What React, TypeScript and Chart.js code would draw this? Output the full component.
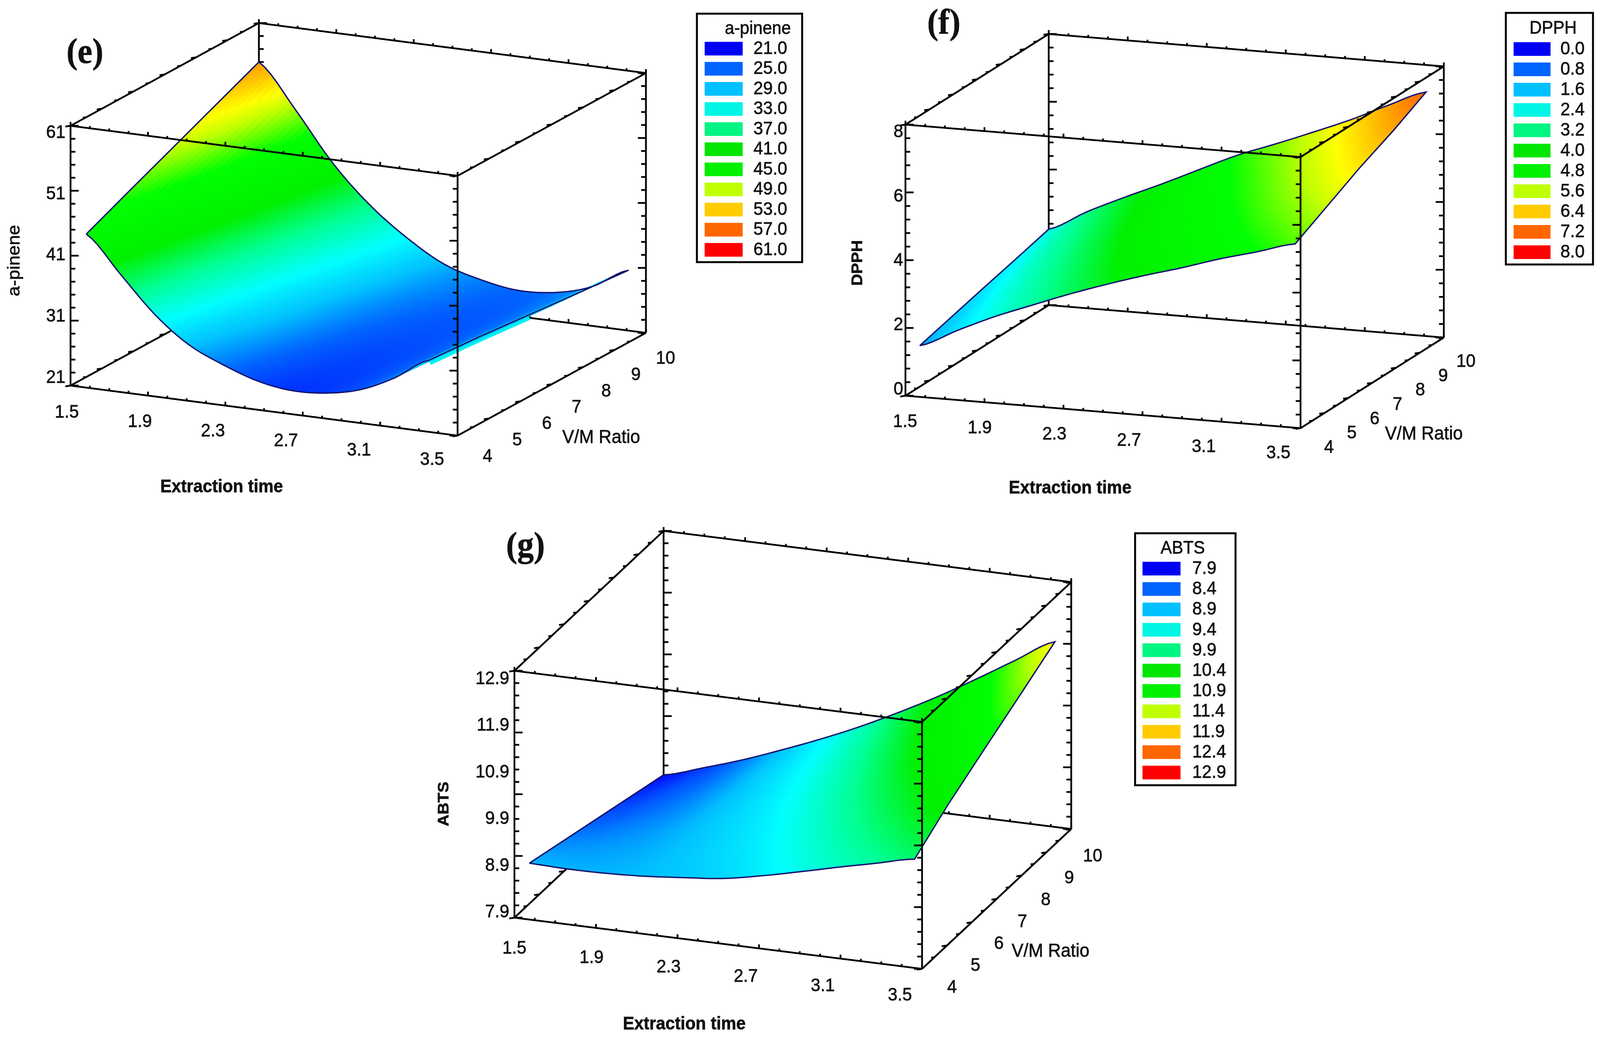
import { useEffect, useRef } from "react";
import { Chart, registerables, type ChartConfiguration, type Plugin } from "chart.js";

Chart.register(...registerables);

// tick labels
const timeTicks = ["1.5", "1.9", "2.3", "2.7", "3.1", "3.5"];
const ratioTicks = ["4", "5", "6", "7", "8", "9", "10"];
const pineneTicks = ["21", "31", "41", "51", "61"];
const dpphTicks = ["0", "2", "4", "6", "8"];
const abtsTicks = ["7.9", "8.9", "9.9", "10.9", "11.9", "12.9"];

// legend levels
const pineneLevels = ["21.0", "25.0", "29.0", "33.0", "37.0", "41.0", "45.0", "49.0", "53.0", "57.0", "61.0"];
const dpphLevels = ["0.0", "0.8", "1.6", "2.4", "3.2", "4.0", "4.8", "5.6", "6.4", "7.2", "8.0"];
const abtsLevels = ["7.9", "8.4", "8.9", "9.4", "9.9", "10.4", "10.9", "11.4", "11.9", "12.4", "12.9"];
const levelColors = ["#0000f5", "#0064ff", "#00c0ff", "#00f5e6", "#00f582", "#00e600", "#00f000", "#c0ff00", "#ffcc00", "#ff6600", "#ff0000"];

// surface shading, as share of the z range and colour
const rampStops = [0, 0.1, 0.17, 0.25, 0.35, 0.45, 0.6, 0.7, 0.75, 0.8, 0.9, 1];
const rampColors = ["#0000ff", "#0064ff", "#00c0ff", "#00ffff", "#00ff90", "#00f000", "#00ff00", "#c0ff00", "#ffff00", "#ffcc00", "#ff6600", "#ff0000"];

// surfaces: one row per V/M ratio, 11 stations from 1.5 h to the row's end time
const pineneRatio = [4.5, 5.86, 7.24, 8.62, 10];
const pineneTimeEnd = [3.27, 3.3, 3.34, 3.38, 3.41];
const pineneZ = [
  [43, 37.5, 32, 28, 25.6, 23.8, 23, 23.3, 24.5, 27, 30.4],
  [46, 40, 34, 29.8, 27, 24.8, 23.7, 23.7, 24.7, 27, 30.4],
  [49, 43, 36.5, 31.6, 28.2, 25.7, 24.4, 24.1, 24.9, 27, 30.4],
  [52, 45.6, 38.7, 33.4, 29.5, 26.6, 25.1, 24.5, 25.1, 27, 30.4],
  [55, 48.3, 40.9, 35.2, 30.9, 27.6, 25.9, 25, 25.4, 27, 30.3],
];

const dpphRatio = [4.6, 5.95, 7.3, 8.65, 10];
const dpphTimeEnd = [3.4, 3.4, 3.4, 3.41, 3.41];
const dpphZ = [
  [1.21, 1.75, 2.25, 2.68, 3.1, 3.48, 3.83, 4.15, 4.5, 4.8, 5.12],
  [1.47, 2.02, 2.53, 2.97, 3.42, 3.84, 4.2, 4.55, 4.93, 5.28, 5.64],
  [1.73, 2.3, 2.8, 3.27, 3.74, 4.18, 4.57, 4.95, 5.35, 5.76, 6.16],
  [1.98, 2.57, 3.08, 3.56, 4.05, 4.53, 4.93, 5.34, 5.77, 6.24, 6.68],
  [2.24, 2.84, 3.36, 3.85, 4.37, 4.88, 5.3, 5.74, 6.2, 6.72, 7.2],
];

const abtsRatio = [4.6, 5.95, 7.3, 8.65, 10];
const abtsTimeEnd = [3.39, 3.39, 3.4, 3.41, 3.42];
const abtsZ = [
  [8.72, 8.7, 8.71, 8.75, 8.82, 8.9, 9.05, 9.23, 9.42, 9.6, 9.78],
  [8.53, 8.58, 8.65, 8.75, 8.88, 9.03, 9.24, 9.48, 9.74, 10, 10.25],
  [8.34, 8.45, 8.58, 8.76, 8.95, 9.17, 9.44, 9.74, 10.06, 10.39, 10.72],
  [8.15, 8.33, 8.52, 8.76, 9.02, 9.3, 9.63, 9.99, 10.38, 10.79, 11.18],
  [7.96, 8.2, 8.46, 8.76, 9.08, 9.43, 9.82, 10.24, 10.7, 11.18, 11.65],
];

type Pt = { x: number; y: number };

type Panel = {
  tag: string;
  name: string;
  area: [number, number, number, number]; // left, top, width, height in picture pixels
  // oblique projection of the box, in picture pixels
  o: Pt;
  u: Pt;
  v: Pt;
  wy: number;
  zMin: number;
  zMax: number;
  zTicks: string[];
  levels: string[];
  ratio: number[];
  timeEnd: number[];
  z: number[][];
  lipRows: number; // rows of the far end edge where the underside shows
  tagAt: Pt;
  zLabel: { right: number; top: number; bottom: number };
  timeLabel: [Pt, Pt];
  ratioLabel: [Pt, Pt];
  timeTitle: Pt;
  ratioTitle: Pt;
  zTitle: Pt;
  zTitleFont: string;
  legend: { box: [number, number, number, number]; sx: number; sw: number; top: number; step: number; tx: number; title: Pt };
};

const panels: Panel[] = [
  {
    tag: "(e)",
    name: "a-pinene",
    area: [0, 0, 2200, 1300],
    o: { x: 191, y: 987 },
    u: { x: 1048, y: 128 },
    v: { x: 510, y: -263 },
    wy: -665,
    zMin: 21,
    zMax: 61,
    zTicks: pineneTicks,
    levels: pineneLevels,
    ratio: pineneRatio,
    timeEnd: pineneTimeEnd,
    z: pineneZ,
    lipRows: 3,
    tagAt: { x: 230, y: 138 },
    zLabel: { right: 177, top: 340, bottom: 967 },
    timeLabel: [{ x: 181, y: 1056 }, { x: 1170, y: 1177 }],
    ratioLabel: [{ x: 1320, y: 1169 }, { x: 1802, y: 918 }],
    timeTitle: { x: 600, y: 1247 },
    ratioTitle: { x: 1628, y: 1121 },
    zTitle: { x: 40, y: 667 },
    zTitleFont: "47px 'Liberation Sans'",
    legend: { box: [1887, 35, 2172, 671], sx: 1908, sw: 103, top: 107, step: 51.5, tx: 2040, title: { x: 2052, y: 74 } },
  },
  {
    tag: "(f)",
    name: "DPPH",
    area: [2250, 0, 2083, 1300],
    o: { x: 2452, y: 1013 },
    u: { x: 1070, y: 83 },
    v: { x: 388, y: -232 },
    wy: -694,
    zMin: 0,
    zMax: 8,
    zTicks: dpphTicks,
    levels: dpphLevels,
    ratio: dpphRatio,
    timeEnd: dpphTimeEnd,
    z: dpphZ,
    lipRows: 0,
    tagAt: { x: 2556, y: 63 },
    zLabel: { right: 2446, top: 338, bottom: 997 },
    timeLabel: [{ x: 2451, y: 1080 }, { x: 3462, y: 1160 }],
    ratioLabel: [{ x: 3599, y: 1146 }, { x: 3970, y: 926 }],
    timeTitle: { x: 2898, y: 1250 },
    ratioTitle: { x: 3856, y: 1112 },
    zTitle: { x: 2323, y: 673 },
    zTitleFont: "bold 42px 'Liberation Sans'",
    legend: { box: [4078, 33, 4314, 677], sx: 4099, sw: 100, top: 108, step: 52, tx: 4226, title: { x: 4206, y: 73 } },
  },
  {
    tag: "(g)",
    name: "ABTS",
    area: [1100, 1300, 2300, 1357],
    o: { x: 1393, y: 2349 },
    u: { x: 1104, y: 131 },
    v: { x: 404, y: -358 },
    wy: -632,
    zMin: 7.9,
    zMax: 12.9,
    zTicks: abtsTicks,
    levels: abtsLevels,
    ratio: abtsRatio,
    timeEnd: abtsTimeEnd,
    z: abtsZ,
    lipRows: 0,
    tagAt: { x: 1423, y: 1402 },
    zLabel: { right: 1379, top: 1738, bottom: 2335 },
    timeLabel: [{ x: 1393, y: 2428 }, { x: 2437, y: 2548 }],
    ratioLabel: [{ x: 2578, y: 2528 }, { x: 2959, y: 2192 }],
    timeTitle: { x: 1853, y: 2622 },
    ratioTitle: { x: 2845, y: 2436 },
    zTitle: { x: 1203, y: 2058 },
    zTitleFont: "bold 42px 'Liberation Sans'",
    legend: { box: [3074, 1365, 3346, 2010], sx: 3094, sw: 103, top: 1438, step: 52.2, tx: 3229, title: { x: 3203, y: 1404 } },
  },
];

const PICTURE_WIDTH = 4333;
const PICTURE_HEIGHT = 2657;
const FONT = "47px 'Liberation Sans'";
const INK = "#111";
const OUTLINE = "#14146e";
const LIP = "#00f0f0";
const SURFACE_DATASET = 1;
const GAP = { x: NaN, y: NaN };

function project(p: Panel, time: number, ratio: number, z: number): Pt {
  const a = (time - 1.5) / 2;
  const b = (ratio - 4) / 6;
  const c = (z - p.zMin) / (p.zMax - p.zMin);
  return { x: p.o.x + p.u.x * a + p.v.x * b, y: p.o.y + p.u.y * a + p.v.y * b + p.wy * c };
}

// one box edge with its tick marks, as a single broken line
function edge(a: Pt, b: Pt, count: number, major: number, minorTick: Pt, majorTick: Pt): Pt[] {
  const out: Pt[] = [a, b, GAP];
  for (let i = 0; i <= count; i++) {
    const at = { x: a.x + ((b.x - a.x) * i) / count, y: a.y + ((b.y - a.y) * i) / count };
    const d = i % major === 0 ? majorTick : minorTick;
    out.push(at, { x: at.x + d.x, y: at.y + d.y }, GAP);
  }
  return out;
}

function boxLines(p: Panel) {
  const c = (t: number, r: number, z: number) => project(p, t, r, z);
  const [t0, t1, r0, r1, z0, z1] = [1.5, 3.5, 4, 10, p.zMin, p.zMax];
  const timeEdge = (a: Pt, b: Pt) => edge(a, b, 20, 4, { x: 0, y: -6 }, { x: 0, y: -10 });
  const ratioEdge = (a: Pt, b: Pt) => edge(a, b, 12, 2, { x: -9, y: 1 }, { x: -14, y: 2 });
  const zEdge = (a: Pt, b: Pt, s: number) => edge(a, b, 20, 5, { x: 13 * s, y: 0 }, { x: 22 * s, y: 0 });
  const front = [
    ...timeEdge(c(t0, r0, z1), c(t1, r0, z1)),
    ...timeEdge(c(t0, r0, z0), c(t1, r0, z0)),
    ...zEdge(c(t0, r0, z0), c(t0, r0, z1), 1),
    ...zEdge(c(t1, r0, z0), c(t1, r0, z1), -1),
    ...zEdge(c(t1, r1, z0), c(t1, r1, z1), -1),
    ...ratioEdge(c(t1, r0, z1), c(t1, r1, z1)),
    ...ratioEdge(c(t1, r0, z0), c(t1, r1, z0)),
  ];
  const back = [
    ...ratioEdge(c(t0, r0, z1), c(t0, r1, z1)),
    ...ratioEdge(c(t0, r0, z0), c(t0, r1, z0)),
    ...timeEdge(c(t0, r1, z1), c(t1, r1, z1)),
    ...timeEdge(c(t0, r1, z0), c(t1, r1, z0)),
    ...zEdge(c(t0, r1, z0), c(t0, r1, z1), 1),
  ];
  return { front, back };
}

// grid point between stations: smooth along time, straight across rows
function surfacePoint(p: Panel, rf: number, cf: number) {
  const rows = p.ratio.length;
  const cols = p.z[0].length;
  const r = Math.min(rows - 2, Math.floor(rf));
  const a = rf - r;
  const along = (row: number[]) => {
    const c = Math.min(cols - 2, Math.floor(cf));
    const m = cf - c;
    const p0 = row[Math.max(0, c - 1)];
    const p1 = row[c];
    const p2 = row[c + 1];
    const p3 = row[Math.min(cols - 1, c + 2)];
    return 0.5 * (2 * p1 + (p2 - p0) * m + (2 * p0 - 5 * p1 + 4 * p2 - p3) * m * m + (3 * p1 - p0 - 3 * p2 + p3) * m * m * m);
  };
  const z = along(p.z[r]) * (1 - a) + along(p.z[r + 1]) * a;
  const ratio = p.ratio[r] + (p.ratio[r + 1] - p.ratio[r]) * a;
  const end = p.timeEnd[r] + (p.timeEnd[r + 1] - p.timeEnd[r]) * a;
  return { ...project(p, 1.5 + ((end - 1.5) * cf) / (cols - 1), ratio, z), z };
}

function surfaceOutline(p: Panel): Pt[] {
  const lastRow = p.ratio.length - 1;
  const lastCol = p.z[0].length - 1;
  const out: Pt[] = [];
  for (let c = 0; c <= lastCol * 6; c++) out.push(surfacePoint(p, 0, c / 6));
  for (let r = 1; r <= lastRow; r++) out.push(surfacePoint(p, r, lastCol));
  for (let c = lastCol * 6 - 1; c >= 0; c--) out.push(surfacePoint(p, lastRow, c / 6));
  for (let r = lastRow - 1; r >= 0; r--) out.push(surfacePoint(p, r, 0));
  return out;
}

function underLip(p: Panel): Pt[] {
  const lastCol = p.z[0].length - 1;
  const out: Pt[] = [];
  for (let r = 0; r < p.lipRows; r++) out.push(surfacePoint(p, r, lastCol));
  return out;
}

function hexRgb(h: string) {
  return [parseInt(h.slice(1, 3), 16), parseInt(h.slice(3, 5), 16), parseInt(h.slice(5, 7), 16)];
}

function rampColor(p: Panel, z: number) {
  const f = Math.min(0.9999, Math.max(0, (z - p.zMin) / (p.zMax - p.zMin)));
  let i = 0;
  while (f > rampStops[i + 1]) i++;
  const m = (f - rampStops[i]) / (rampStops[i + 1] - rampStops[i]);
  const a = hexRgb(rampColors[i]);
  const b = hexRgb(rampColors[i + 1]);
  return `rgb(${a[0] + (b[0] - a[0]) * m},${a[1] + (b[1] - a[1]) * m},${a[2] + (b[2] - a[2]) * m})`;
}

function paintSurface(chart: Chart, p: Panel) {
  const { ctx, scales } = chart;
  const rows = p.ratio.length;
  const cols = p.z[0].length;
  const colSub = 12;
  const rowSub = 20;

  const sample = (rf: number, cf: number) => {
    const q = surfacePoint(p, rf, cf);
    return { x: scales.x.getPixelForValue(q.x), y: scales.y.getPixelForValue(q.y), z: q.z };
  };

  ctx.save();
  ctx.lineWidth = 1;
  ctx.lineJoin = "round";
  // far rows first, so nearer patches cover them
  for (let ri = (rows - 1) * rowSub - 1; ri >= 0; ri--) {
    for (let ci = 0; ci < (cols - 1) * colSub; ci++) {
      const rf = ri / rowSub;
      const cf = ci / colSub;
      const a = sample(rf, cf);
      const b = sample(rf, cf + 1 / colSub);
      const c = sample(rf + 1 / rowSub, cf + 1 / colSub);
      const d = sample(rf + 1 / rowSub, cf);
      const color = rampColor(p, (a.z + b.z + c.z + d.z) / 4);
      ctx.fillStyle = color;
      ctx.strokeStyle = color;
      ctx.beginPath();
      ctx.moveTo(a.x, a.y);
      ctx.lineTo(b.x, b.y);
      ctx.lineTo(c.x, c.y);
      ctx.lineTo(d.x, d.y);
      ctx.closePath();
      ctx.fill();
      ctx.stroke();
    }
  }
  ctx.restore();
}

function paintText(chart: Chart, p: Panel, squeeze: number) {
  const { ctx, scales } = chart;
  const px = (q: Pt) => ({ x: scales.x.getPixelForValue(q.x), y: scales.y.getPixelForValue(q.y) });
  const text = (s: string, q: Pt, font: string, align: CanvasTextAlign = "center", turned = false) => {
    const at = px(q);
    ctx.save();
    ctx.translate(at.x, at.y);
    ctx.scale(squeeze, 1);
    if (turned) ctx.rotate(-Math.PI / 2);
    ctx.font = font;
    ctx.textAlign = align;
    ctx.textBaseline = "middle";
    ctx.fillText(s, 0, 0);
    // the reference's small text is a little heavier than the regular face
    ctx.strokeStyle = INK;
    ctx.lineWidth = 0.9;
    ctx.strokeText(s, 0, 0);
    ctx.restore();
  };
  const along = (labels: string[], ends: [Pt, Pt], i: number) => {
    const f = i / (labels.length - 1);
    return { x: ends[0].x + (ends[1].x - ends[0].x) * f, y: ends[0].y + (ends[1].y - ends[0].y) * f };
  };

  ctx.save();
  ctx.fillStyle = INK;
  p.zTicks.forEach((s, i) => {
    const f = i / (p.zTicks.length - 1);
    text(s, { x: p.zLabel.right, y: p.zLabel.bottom + (p.zLabel.top - p.zLabel.bottom) * f }, FONT, "right");
  });
  timeTicks.forEach((s, i) => text(s, along(timeTicks, p.timeLabel, i), FONT));
  ratioTicks.forEach((s, i) => text(s, along(ratioTicks, p.ratioLabel, i), FONT));
  text("Extraction time", p.timeTitle, "bold 46px 'Liberation Sans'");
  text("V/M Ratio", p.ratioTitle, "48px 'Liberation Sans'");
  text(p.tag, p.tagAt, "bold 90px 'Liberation Serif'");
  text(p.name, p.zTitle, p.zTitleFont, "center", true);

  // legend box
  const { box, sx, sw, top, step, tx, title } = p.legend;
  const tl = px({ x: box[0], y: box[1] });
  const br = px({ x: box[2], y: box[3] });
  ctx.strokeStyle = "#000";
  ctx.lineWidth = 5;
  ctx.strokeRect(tl.x, tl.y, br.x - tl.x, br.y - tl.y);
  text(p.name, title, "46px 'Liberation Sans'");
  p.levels.forEach((s, i) => {
    const y = top + step * i;
    const a = px({ x: sx, y });
    const b = px({ x: sx + sw, y: y + 35 });
    ctx.fillStyle = levelColors[i];
    ctx.fillRect(a.x, a.y, b.x - a.x, b.y - a.y);
    ctx.fillStyle = INK;
    text(s, { x: tx, y: y + 18 }, FONT, "left");
  });
  ctx.restore();
}

function SurfacePanel({ panel, squeeze }: { panel: Panel; squeeze: number }) {
  const canvasRef = useRef<HTMLCanvasElement>(null);
  const [left, top, width, height] = panel.area;
  const shownWidth = Math.round(width * squeeze);

  useEffect(() => {
    if (!canvasRef.current) return;
    const { front, back } = boxLines(panel);
    const line = { showLine: true, pointRadius: 0, tension: 0, spanGaps: false };
    const surfacePlugin: Plugin = {
      id: "surface",
      beforeDatasetDraw(chart, args) {
        if (args.index === SURFACE_DATASET) paintSurface(chart, panel);
      },
      afterDatasetsDraw(chart) {
        paintText(chart, panel, squeeze);
      },
    };
    const cfg: ChartConfiguration = {
      type: "scatter",
      data: {
        datasets: [
          { ...line, label: "front", data: front, borderColor: "#000", borderWidth: 4.5, order: 0 },
          { ...line, label: panel.name, data: surfaceOutline(panel), borderColor: OUTLINE, borderWidth: 3.5, order: 1 },
          { ...line, label: "underside", data: underLip(panel), borderColor: LIP, borderWidth: 26, order: 2 },
          { ...line, label: "back", data: back, borderColor: "#000", borderWidth: 4.5, order: 3 },
        ] as any,
      },
      options: {
        animation: false,
        responsive: false,
        devicePixelRatio: 1,
        layout: { padding: 0 },
        plugins: { legend: { display: false }, tooltip: { enabled: false } },
        scales: {
          x: { type: "linear", display: false, min: left, max: left + width },
          y: { type: "linear", display: false, min: top, max: top + height, reverse: true },
        },
      },
      plugins: [surfacePlugin],
    };
    const chart = new Chart(canvasRef.current, cfg);
    return () => chart.destroy();
  }, [panel, squeeze]);

  return (
    <canvas
      ref={canvasRef}
      width={shownWidth}
      height={height}
      style={{ position: "absolute", left: left * squeeze, top, width: shownWidth, height, display: "block" }}
    />
  );
}

export default function App() {
  // the window can be narrower than the picture: fit its width
  const squeeze = Math.min(1, window.innerWidth / PICTURE_WIDTH);
  return (
    <div style={{ position: "absolute", left: 0, top: 0, width: PICTURE_WIDTH * squeeze, height: PICTURE_HEIGHT, background: "#fff", overflow: "hidden" }}>
      {panels.map((p) => (
        <SurfacePanel key={p.tag} panel={p} squeeze={squeeze} />
      ))}
    </div>
  );
}
